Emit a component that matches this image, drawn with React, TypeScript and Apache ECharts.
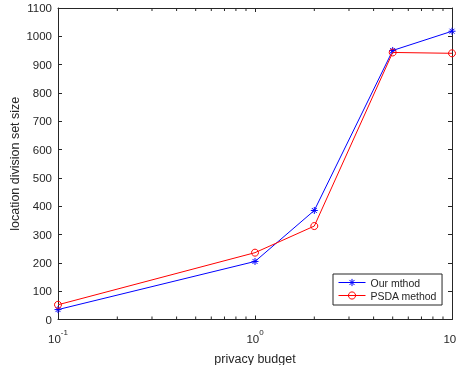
import React, { useEffect, useRef } from "react";
import * as echarts from "echarts";

const budgets = [0.1, 1, 2, 5, 10];
const ourMethod = [35, 205, 385, 950, 1018];
const psdaMethod = [52, 236, 330, 943, 940];
const minorTicks = [0.2, 0.3, 0.4, 0.5, 0.6, 0.7, 0.8, 0.9, 2, 3, 4, 5, 6, 7, 8, 9];
const seriesNames = ["Our mthod", "PSDA method"];
const xAxisName = "privacy budget";
const yAxisName = "location division set size";

const FONT = "Liberation Sans, Arial, Helvetica, sans-serif";
const AX = "#262626";
const ASTERISK = "path://M5,0L5,10M0,5L10,5M1.46,1.46L8.54,8.54M8.54,1.46L1.46,8.54";

export default function App() {
  const ref = useRef<HTMLDivElement>(null);
  useEffect(() => {
    const chart = echarts.init(ref.current!, null, { renderer: "svg" });
    const logAxisBase = {
      type: "log" as const,
      logBase: 10,
      min: 0.1,
      max: 10,
      splitLine: { show: false },
      axisLine: { show: true, onZero: false, lineStyle: { color: AX, width: 1 } },
      axisTick: { show: true, inside: true, length: 4, lineStyle: { color: AX } },
    };
    const yBase = {
      type: "value" as const,
      min: 0,
      max: 1100,
      interval: 100,
      splitLine: { show: false },
      axisLine: { show: true, lineStyle: { color: AX, width: 1 } },
      axisTick: { show: true, inside: true, length: 4, lineStyle: { color: AX } },
    };
    chart.setOption({
      animation: false,
      grid: { left: 58, right: 4, top: 8, bottom: 45.5, containLabel: false, outerBoundsMode: "none" },
      legend: {
        data: seriesNames,
        orient: "vertical",
        left: 333,
        top: 274,
        borderColor: AX,
        borderWidth: 1,
        borderRadius: 0,
        backgroundColor: "#fff",
        padding: [3, 5, 4, 5],
        itemWidth: 27,
        itemHeight: 9,
        itemGap: 2,
        lineStyle: { width: 1 },
        itemStyle: { borderWidth: 1 },
        textStyle: { fontFamily: FONT, fontSize: 10.5, color: AX },
      },
      xAxis: [
        {
          ...logAxisBase,
          position: "bottom",
          name: xAxisName,
          nameLocation: "middle",
          nameGap: 33,
          nameMoveOverlap: false,
          nameTextStyle: { fontFamily: FONT, fontSize: 12.5, color: AX },
          axisLabel: {
            show: true,
            margin: 9,
            color: AX,
            fontFamily: FONT,
            formatter: (v: number) => {
              const e = Math.round(Math.log10(v));
              return "{b|10}{s|" + e + "}";
            },
            rich: {
              b: { fontSize: 11.5, fontFamily: FONT, color: AX, verticalAlign: "bottom", lineHeight: 16 },
              s: { fontSize: 8, fontFamily: FONT, color: AX, verticalAlign: "top", lineHeight: 16, padding: [0, 0, 6, 0] },
            },
          },
        },
        {
          ...logAxisBase,
          position: "top",
          axisLabel: { show: false },
        },
      ],
      yAxis: [
        {
          ...yBase,
          position: "left",
          name: yAxisName,
          nameLocation: "middle",
          nameGap: 37,
          nameMoveOverlap: false,
          nameTextStyle: { fontFamily: FONT, fontSize: 12.5, color: AX },
          axisLabel: { color: AX, fontFamily: FONT, fontSize: 11.5, margin: 6, formatter: (v: number) => String(v) },
        },
        {
          ...yBase,
          position: "right",
          axisLabel: { show: false },
        },
      ],
      series: [
        {
          name: seriesNames[0],
          type: "line",
          data: budgets.map((b, i) => [b, ourMethod[i]]),
          symbol: ASTERISK,
          symbolSize: 7,
          lineStyle: { color: "#0000ff", width: 1 },
          itemStyle: { color: "#0000ff", borderColor: "#0000ff", borderWidth: 1 },
          clip: false,
          z: 3,
        },
        {
          name: seriesNames[1],
          type: "line",
          data: budgets.map((b, i) => [b, psdaMethod[i]]),
          symbol: "circle",
          symbolSize: 7,
          lineStyle: { color: "#ff0000", width: 1 },
          itemStyle: { color: "rgba(255,255,255,0)", borderColor: "#ff0000", borderWidth: 1 },
          clip: false,
          z: 4,
        },
        {
          type: "custom",
          silent: true,
          data: minorTicks.map((v) => [v, 0]),
          renderItem: (_p: any, api: any) => {
            const v = api.value(0);
            const b = api.coord([v, 0]);
            const t = api.coord([v, 1100]);
            return {
              type: "group",
              children: [
                { type: "line", shape: { x1: b[0], y1: b[1], x2: b[0], y2: b[1] - 3 }, style: { stroke: AX, lineWidth: 1 } },
                { type: "line", shape: { x1: t[0], y1: t[1], x2: t[0], y2: t[1] + 3 }, style: { stroke: AX, lineWidth: 1 } },
              ],
            };
          },
          z: 1,
        },
      ],
    });
    return () => chart.dispose();
  }, []);
  return <div ref={ref} style={{ position: "fixed", left: 0, top: 0, width: 456, height: 365 }} />;
}
